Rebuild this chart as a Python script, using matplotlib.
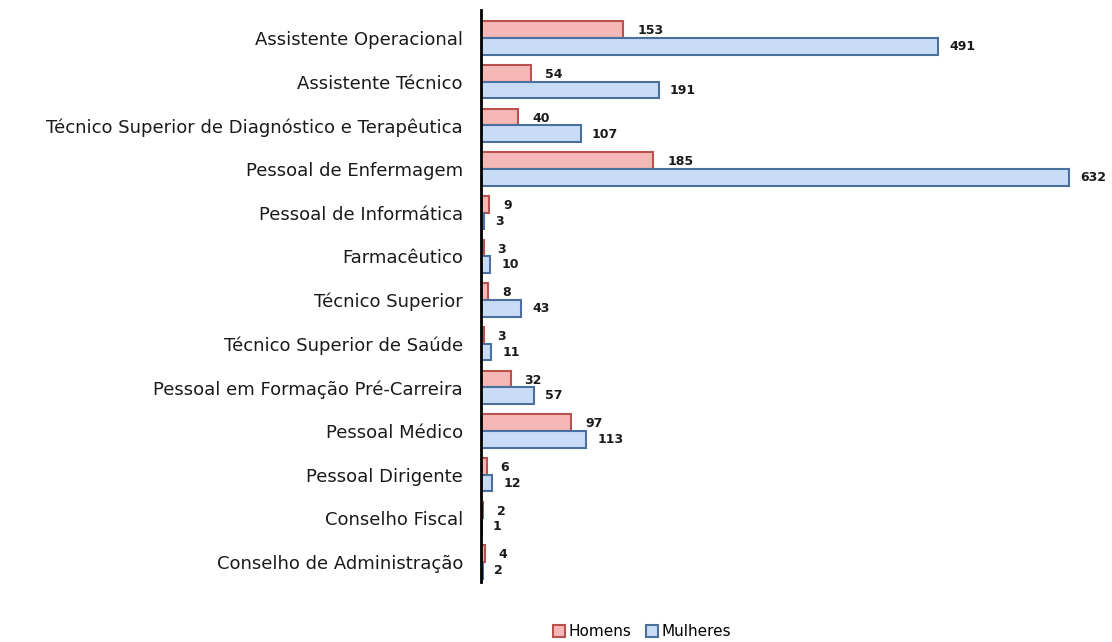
import matplotlib
matplotlib.use("Agg")
import matplotlib.pyplot as plt
import numpy as np

categories = [
    "Assistente Operacional",
    "Assistente Técnico",
    "Técnico Superior de Diagnóstico e Terapêutica",
    "Pessoal de Enfermagem",
    "Pessoal de Informática",
    "Farmacêutico",
    "Técnico Superior",
    "Técnico Superior de Saúde",
    "Pessoal em Formação Pré-Carreira",
    "Pessoal Médico",
    "Pessoal Dirigente",
    "Conselho Fiscal",
    "Conselho de Administração",
]
homens = [153, 54, 40, 185, 9, 3, 8, 3, 32, 97, 6, 2, 4]
mulheres = [491, 191, 107, 632, 3, 10, 43, 11, 57, 113, 12, 1, 2]
series_names = ["Homens", "Mulheres"]

W, H = 1112, 642
fig = plt.figure(figsize=(W / 100, H / 100), dpi=100)
ax = fig.add_axes([481 / W, (642 - 582) / H, 1 - 481 / W, (582 - 10) / H])

y = np.arange(len(categories))
bh = 0.38
c_h_fill, c_h_edge = "#f6b8b6", "#b9514e"
c_m_fill, c_m_edge = "#c9dcf6", "#4b6f9e"

bars_h = ax.barh(y - 0.19, homens, height=bh, color=c_h_fill, edgecolor=c_h_edge,
                 linewidth=1.5, label=series_names[0], zorder=3)
bars_m = ax.barh(y + 0.19, mulheres, height=bh, color=c_m_fill, edgecolor=c_m_edge,
                 linewidth=1.5, label=series_names[1], zorder=3)

ax.set_xlim(0, 678)
ax.set_ylim(12.46, -0.64)

for yi, v in zip(y, homens):
    ax.annotate(str(v), (v, yi - 0.16), xytext=(10, 0), textcoords="offset points",
                ha="left", va="center", fontsize=9, fontweight="bold",
                color="#1a1a1a", clip_on=False, annotation_clip=False)
for yi, v in zip(y, mulheres):
    ax.annotate(str(v), (v, yi + 0.2), xytext=(8, 0), textcoords="offset points",
                ha="left", va="center", fontsize=9, fontweight="bold",
                color="#1a1a1a", clip_on=False, annotation_clip=False)

ax.set_yticks(y)
ax.set_yticklabels(categories, fontsize=13, color="#1a1a1a")
ax.tick_params(axis="y", length=0, pad=13)
ax.set_xticks([])
for s in ["top", "right", "bottom"]:
    ax.spines[s].set_visible(False)
ax.spines["left"].set_linewidth(2)
ax.spines["left"].set_color("black")
ax.spines["left"].set_zorder(5)

fig.legend(handles=[bars_h, bars_m], labels=series_names, loc="center",
           bbox_to_anchor=(642 / W, 10 / H), ncol=2, frameon=False,
           fontsize=11, handlelength=0.8, handleheight=0.8, handletextpad=0.2,
           columnspacing=1.0)

fig.savefig("out.png", dpi=100)
